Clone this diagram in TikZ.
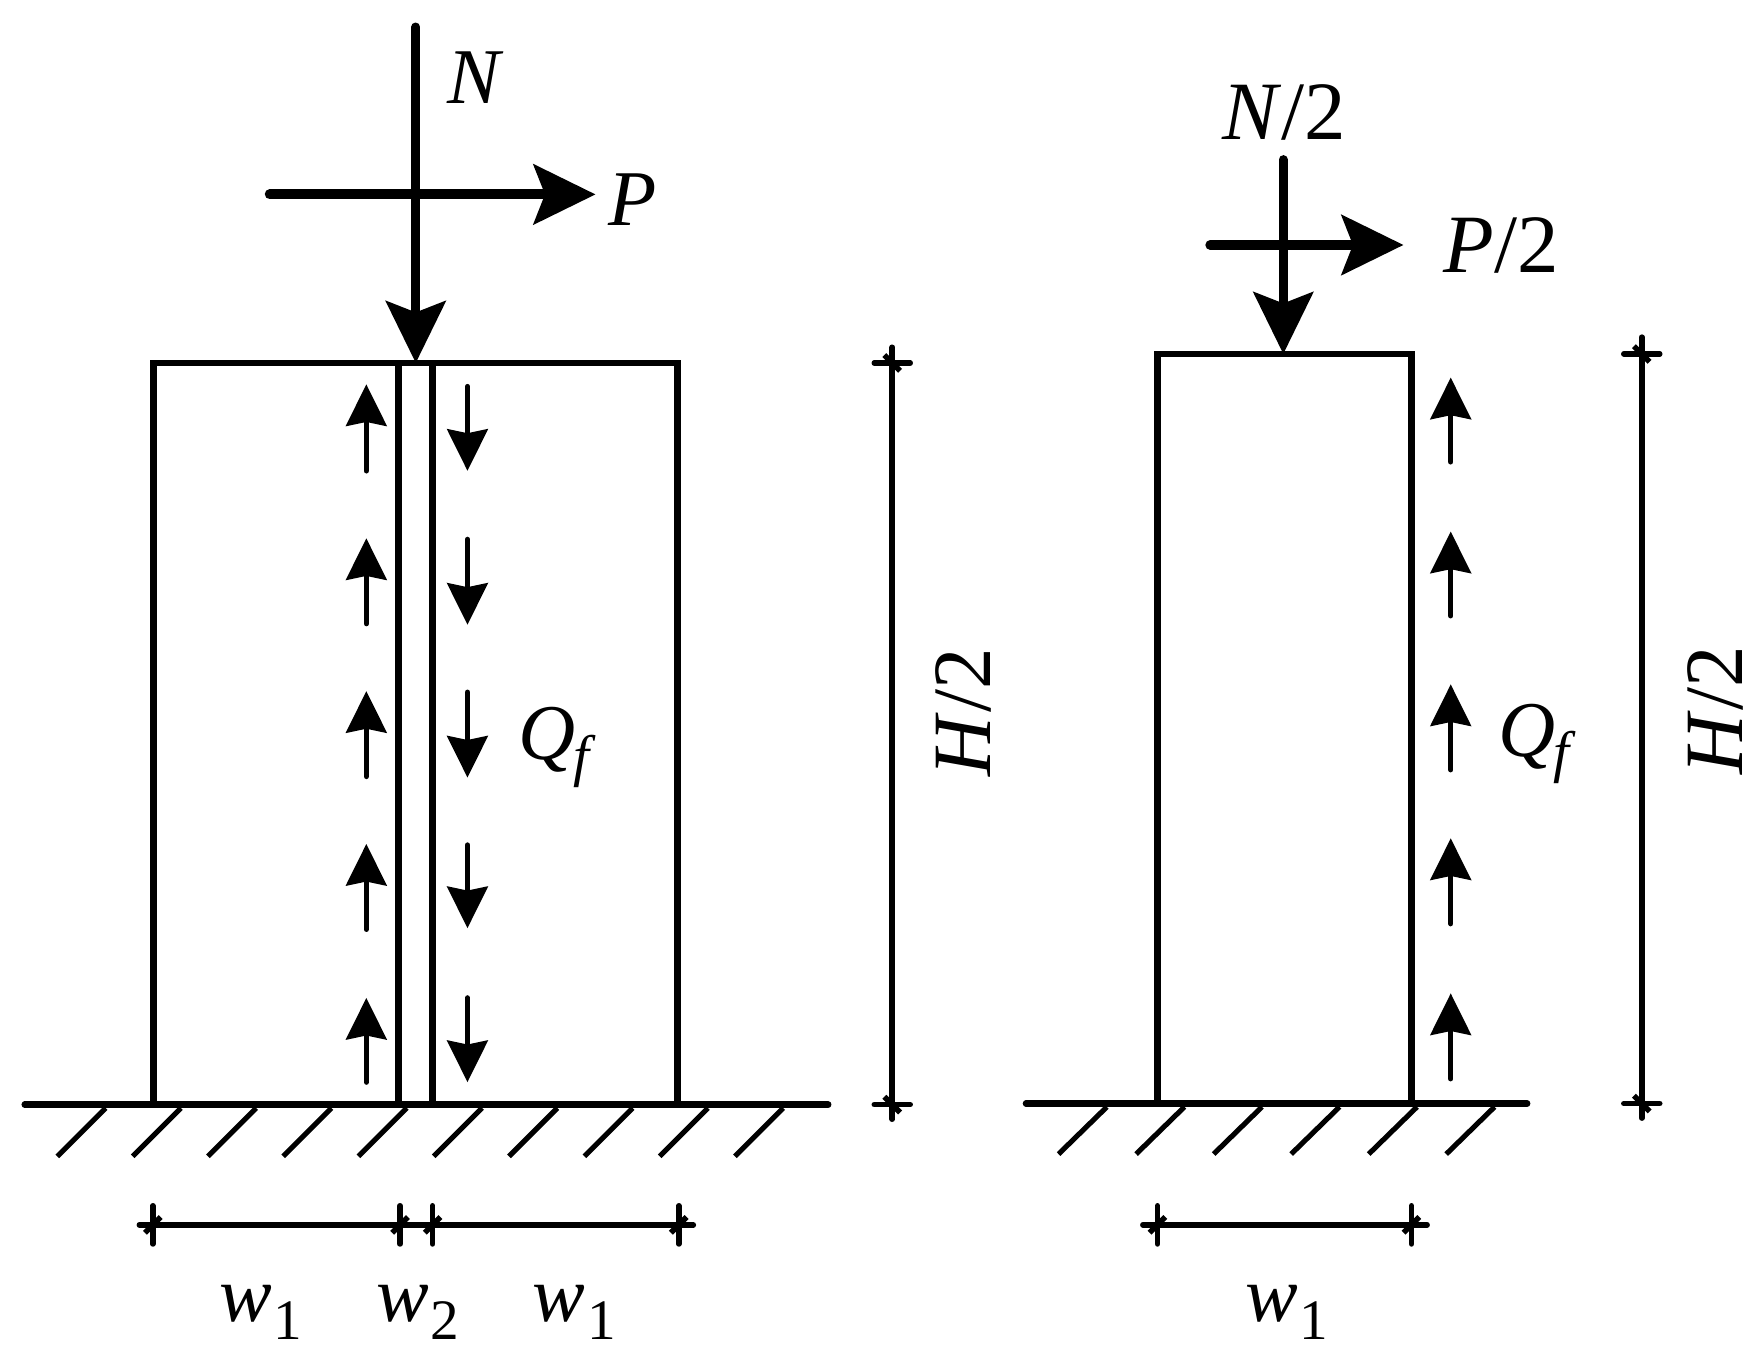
\documentclass[tikz,border=0pt]{standalone}
\usepackage{fontspec}
\setmainfont{Liberation Serif}
\usetikzlibrary{arrows.meta}
\tikzstyle{wall} = [draw=black, line width=3.5pt, line join=miter]
\tikzstyle{ground} = [draw=black, line width=3.3pt, line cap=round]
\tikzstyle{hatch} = [draw=black, line width=2.6pt]
\tikzstyle{load} = [draw=black, line width=4.5pt, line cap=round, -{Stealth[length=1.1cm, width=1.06cm, inset=.2cm]}]
\tikzstyle{push} = [load, line width=5pt]
\tikzstyle{shear} = [draw=black, line width=2.7pt, line cap=round, -{Stealth[length=.74cm, width=.72cm, inset=.07cm]}]
\tikzstyle{dimen} = [draw=black, line width=2.8pt, line cap=round]
\tikzstyle{label} = [inner sep=0pt, font=\fontsize{40}{40}\selectfont]
\tikzstyle{labelbig} = [inner sep=0pt, font=\fontsize{42}{42}\selectfont]
\newcommand{\subw}[1]{\textit{w}\kern.02em\raisebox{-.22em}{\fontsize{29}{29}\selectfont #1}}
\newcommand{\subq}{\textit{Q}\kern-.02em\raisebox{-.2em}{\fontsize{29}{29}\selectfont\textit{f}}}
\begin{document}
\begin{tikzpicture}[x=0.02cm, y=-0.02cm]
\useasboundingbox (0,0) rectangle (1568,1213);

% left column
\draw[wall] (137,323) rectangle (603,983);
\draw[wall] (355,323) -- (355,983);
\draw[wall] (385,323) -- (385,983);
\draw[ground] (22,983) -- (737,983);
\foreach \x in {0,...,9} \draw[hatch] (51+67*\x,1029) -- (94+67*\x,986);

% right column
\draw[wall] (1030,315) rectangle (1256,982);
\draw[ground] (913,982) -- (1359,982);
\foreach \x in {0,...,5} \draw[hatch] (942+69*\x,1027) -- (985+69*\x,985);

% loads
\coordinate (nTop) at (370,24);
\coordinate (nTip) at (370,323);
\coordinate (pStart) at (240,173);
\coordinate (pTip) at (530,173);
\draw[load] (nTop) -- (nTip);
\draw[push] (pStart) -- (pTip);
\coordinate (nhTop) at (1142,142);
\coordinate (nhTip) at (1142,315);
\coordinate (phStart) at (1077,218);
\coordinate (phTip) at (1249,218);
\draw[load] (nhTop) -- (nhTip);
\draw[push] (phStart) -- (phTip);

% shear arrows
\foreach \a/\b in {342/419,479/555,615/691,751/827,888/963}
  \draw[shear] (326,\b) -- (326,\a);
\foreach \a/\b in {344/419,480/556,616/692,752/826,888/963}
  \draw[shear] (416,\a) -- (416,\b);
\foreach \a/\b in {336/411,473/548,609/685,746/822,884/960}
  \draw[shear] (1291,\b) -- (1291,\a);

% dimensions
\draw[dimen] (124,1090) -- (617,1090);
\foreach \x in {136,356,385,604} {
  \draw[dimen] (\x,1073) -- (\x,1107);
  \draw[dimen, line cap=butt] (\x-7,1097) -- (\x+7,1083);
}
\draw[dimen] (1017,1090) -- (1270,1090);
\foreach \x in {1030,1256} {
  \draw[dimen] (\x,1073) -- (\x,1107);
  \draw[dimen, line cap=butt] (\x-7,1097) -- (\x+7,1083);
}
\draw[dimen] (794,309) -- (794,996);
\foreach \y in {323,983} {
  \draw[dimen] (778,\y) -- (810,\y);
  \draw[dimen, line cap=butt] (787,\y-7) -- (801,\y+7);
}
\draw[dimen] (1461,300) -- (1461,995);
\foreach \y in {315,982} {
  \draw[dimen] (1445,\y) -- (1477,\y);
  \draw[dimen, line cap=butt] (1454,\y-7) -- (1468,\y+7);
}

% labels
\node (lblN) [label] at (423,69) {\textit{N}};
\node (lblP) [label] at (563,178) {\textit{P}};
\node (lblQa) [label] at (496,665) {\subq};
\node (lblHa) [labelbig, rotate=90] at (857,634) {\textit{H}/2};
\node (lblW1) [label] at (232,1168) {\subw{1}};
\node (lblW2) [label] at (372,1168) {\subw{2}};
\node (lblW3) [label] at (511,1168) {\subw{1}};
\node (lblNh) [labelbig] at (1143,100) {\textit{N}/2};
\node (lblPh) [labelbig] at (1336,218) {\textit{P}/2};
\node (lblQb) [label] at (1368,662) {\subq};
\node (lblHb) [labelbig, rotate=90] at (1527,632) {\textit{H}/2};
\node (lblW4) [label] at (1145,1168) {\subw{1}};
\end{tikzpicture}
\end{document}
